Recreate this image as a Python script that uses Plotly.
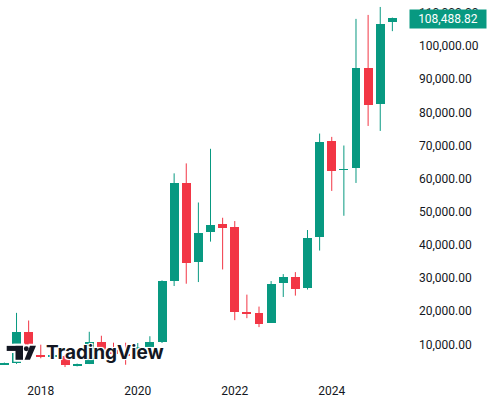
import plotly.graph_objects as go

# ---- data (quarterly BTC/USD candles) ----
quarters = ["2017Q3", "2017Q4", "2018Q1", "2018Q2", "2018Q3", "2018Q4",
            "2019Q1", "2019Q2", "2019Q3", "2019Q4", "2020Q1", "2020Q2",
            "2020Q3", "2020Q4", "2021Q1", "2021Q2", "2021Q3", "2021Q4",
            "2022Q1", "2022Q2", "2022Q3", "2022Q4", "2023Q1", "2023Q2",
            "2023Q3", "2023Q4", "2024Q1", "2024Q2", "2024Q3", "2024Q4",
            "2025Q1", "2025Q2", "2025Q3"]
opens = [4050, 4338, 13600, 6900, 6400, 6600, 3700, 4100, 10800, 8300, 7200, 6400,
         9150, 10800, 29000, 58800, 35000, 43800, 46300, 45500, 19900, 19400, 16550, 28450,
         30450, 26950, 42300, 71300, 62700, 63300, 93400, 82500, 107200]
highs = [4500, 19500, 17200, 9900, 8500, 6800, 4200, 13800, 12600, 10500, 10500, 10400,
         12450, 29300, 61600, 64600, 52800, 69000, 48200, 47200, 25000, 21400, 29100, 31200,
         31800, 44500, 73600, 72600, 70000, 108200, 109400, 111800, 108600]
lows = [3900, 4100, 5900, 5800, 5900, 3150, 3350, 4050, 7700, 6450, 3850, 6150,
        8900, 10400, 27600, 28300, 28800, 41000, 32600, 17300, 17900, 15200, 16500, 24300,
        24700, 26550, 38300, 56300, 48800, 58700, 75900, 74400, 104500]
closes = [4338, 13600, 6900, 6400, 6600, 3700, 4100, 10800, 8300, 7200, 6400, 9150,
          10800, 29000, 58600, 34700, 43600, 46100, 45200, 19700, 19300, 16200, 28300, 30300,
          26700, 42100, 71100, 62300, 62900, 93300, 82100, 106800, 108488.82]
year_ticks_idx = [3, 11, 19, 27]
year_ticks_txt = ["2018", "2020", "2022", "2024"]
price_ticks = [10000, 20000, 30000, 40000, 50000, 60000, 70000, 80000, 90000, 100000, 110000]

UP = "#089981"
DOWN = "#F23645"
TXT = "#131722"
FONT = "Roboto"

W, H = 496, 398
ML, MR, MT, MB = 0, 88, 0, 18
PW, PH = W - ML - MR, H - MT - MB

idx = list(range(len(quarters)))
up = [c >= o for o, c in zip(opens, closes)]

fig = go.Figure()

# wicks
for flag, col in ((True, UP), (False, DOWN)):
    xs, ys = [], []
    for i in idx:
        if up[i] == flag:
            xs += [i, i, None]
            ys += [lows[i], highs[i], None]
    fig.add_trace(go.Scatter(x=xs, y=ys, mode="lines", line=dict(color=col, width=1),
                             hoverinfo="skip", showlegend=False))

# bodies
fig.add_trace(go.Bar(
    x=idx,
    y=[abs(c - o) for o, c in zip(opens, closes)],
    base=[min(o, c) for o, c in zip(opens, closes)],
    width=0.74,
    marker=dict(color=[UP if u else DOWN for u in up], line=dict(width=0)),
    hovertext=quarters, showlegend=False,
))

def px(x):
    return (x - ML) / PW

def py(y):
    return 1 - (y - MT) / PH

# TradingView logo icon: white halo first, then dark glyph pieces
def logo_pieces(color, lw):
    ln = dict(width=lw, color=color) if lw else dict(width=0)
    return [
        dict(type="rect", xref="paper", yref="paper", x0=px(6.7), x1=px(23), y0=py(352.8), y1=py(347.7),
             fillcolor=color, line=ln),
        dict(type="rect", xref="paper", yref="paper", x0=px(15.5), x1=px(23), y0=py(361.7), y1=py(347.7),
             fillcolor=color, line=ln),
        dict(type="circle", xref="paper", yref="paper", x0=px(23.8), x1=px(28.8), y0=py(353), y1=py(348),
             fillcolor=color, line=ln),
        dict(type="path", xref="paper", yref="paper",
             path=f"M {px(30)},{py(347.7)} L {px(36)},{py(347.7)} L {px(30)},{py(361.7)} L {px(24.5)},{py(361.7)} Z",
             fillcolor=color, line=ln),
    ]

shapes = logo_pieces("white", 4) + logo_pieces(TXT, 0)

halo = "-1px -1px 0 #fff, 1px -1px 0 #fff, -1px 1px 0 #fff, 1px 1px 0 #fff, 0 0 3px #fff"
annotations = [
    dict(text="<b>TradingView</b>", xref="paper", yref="paper", x=px(44), y=py(354),
         xanchor="left", yanchor="middle", showarrow=False,
         font=dict(family="Inter", size=19, color=TXT, shadow=halo)),
    dict(text=f"{closes[-1]:,.2f}", xref="paper", yref="paper", x=px(409), y=py(19),
         xanchor="left", yanchor="middle", showarrow=False, bgcolor=UP,
         width=72, height=14, borderpad=2,
         font=dict(family=FONT, size=12, color="white")),
]

fig.update_layout(
    width=W, height=H,
    margin=dict(l=ML, r=MR, t=MT, b=MB),
    paper_bgcolor="white", plot_bgcolor="white",
    showlegend=False, bargap=0,
    shapes=shapes, annotations=annotations,
    font=dict(family=FONT, size=12, color=TXT),
    xaxis=dict(range=[-0.363, 33.29], showgrid=False, zeroline=False, showline=False,
               tickvals=year_ticks_idx, ticktext=year_ticks_txt, ticks="", ticklabelstandoff=4,
               tickfont=dict(family=FONT, size=12, color=TXT)),
    yaxis=dict(range=[-150, 113900], side="right", showgrid=False, zeroline=False, showline=False,
               tickvals=price_ticks, tickformat=",.2f", ticks="", ticklabelstandoff=10,
               tickfont=dict(family=FONT, size=12, color=TXT)),
)

fig.write_html("out.html", config={"displayModeBar": False},
               post_script="document.body.style.margin='0';")
